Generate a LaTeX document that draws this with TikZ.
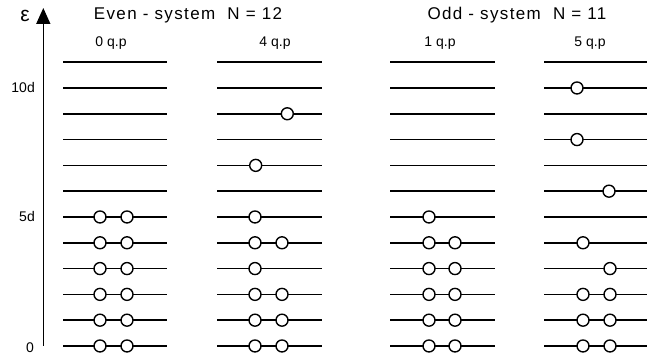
\documentclass[tikz,border=0pt]{standalone}
\usepackage{fontspec}
\setmainfont{Liberation Sans}
\usetikzlibrary{arrows.meta}
\pgfdeclarelayer{bg}
\pgfsetlayers{bg,main}
\tikzset{
    qp/.style={circle, draw, fill=white, inner sep=0mm, minimum size=12pt, line width=1.4pt},
    level/.style={line width=1.6pt},
    txt/.style={inner sep=0pt}
}

\begin{document}
\begin{tikzpicture}[x=1pt, y=25.8pt]
  \useasboundingbox (0,-0.62) rectangle (647,13.41);

  % axis and labels
  \coordinate (ax0) at (43.3,0);
  \coordinate (ax1) at (43.3,13.1);
  \node[txt] (eps) at (25,12.8) {\fontsize{21}{22}\selectfont ε};
  \node[txt, anchor=east] (d10) at (35,10) {\fontsize{14}{16}\selectfont 10d};
  \node[txt, anchor=east] (d5) at (35,5) {\fontsize{14}{16}\selectfont 5d};
  \node[txt, anchor=east] (d0) at (34,-0.05) {\fontsize{14}{16}\selectfont 0};

  \node[txt] (even) at (188,12.83) {\fontsize{17}{20}\selectfont\addfontfeature{LetterSpace=8}Even - system \ N = 12};
  \node[txt] (odd) at (517,12.83) {\fontsize{17}{20}\selectfont\addfontfeature{LetterSpace=8}Odd - system \ N = 11};

  \node[txt] (qa) at (111,11.75) {\fontsize{14}{16}\selectfont 0 q.p};
  \node[txt] (qb) at (275,11.75) {\fontsize{14}{16}\selectfont 4 q.p};
  \node[txt] (qc) at (440,11.75) {\fontsize{14}{16}\selectfont 1 q.p};
  \node[txt] (qd) at (590,11.75) {\fontsize{14}{16}\selectfont 5 q.p};

  % 0 q.p
  \node[qp] (a0l) at (100,0) {}; \node[qp] (a0r) at (127,0) {};
  \node[qp] (a1l) at (100,1) {}; \node[qp] (a1r) at (127,1) {};
  \node[qp] (a2l) at (100,2) {}; \node[qp] (a2r) at (127,2) {};
  \node[qp] (a3l) at (100,3) {}; \node[qp] (a3r) at (127,3) {};
  \node[qp] (a4l) at (100,4) {}; \node[qp] (a4r) at (127,4) {};
  \node[qp] (a5l) at (100,5) {}; \node[qp] (a5r) at (127,5) {};

  % 4 q.p
  \node[qp] (b0l) at (255,0) {}; \node[qp] (b0r) at (282,0) {};
  \node[qp] (b1l) at (255,1) {}; \node[qp] (b1r) at (282,1) {};
  \node[qp] (b2l) at (255,2) {}; \node[qp] (b2r) at (282,2) {};
  \node[qp] (b3l) at (255,3) {};
  \node[qp] (b4l) at (255,4) {}; \node[qp] (b4r) at (282,4) {};
  \node[qp] (b5l) at (255,5) {};
  \node[qp] (b7l) at (255.7,7) {};
  \node[qp] (b9r) at (287.3,9) {};

  % 1 q.p
  \node[qp] (c0l) at (429,0) {}; \node[qp] (c0r) at (455,0) {};
  \node[qp] (c1l) at (429,1) {}; \node[qp] (c1r) at (455,1) {};
  \node[qp] (c2l) at (429,2) {}; \node[qp] (c2r) at (455,2) {};
  \node[qp] (c3l) at (429,3) {}; \node[qp] (c3r) at (455,3) {};
  \node[qp] (c4l) at (429,4) {}; \node[qp] (c4r) at (455,4) {};
  \node[qp] (c5l) at (429,5) {};

  % 5 q.p
  \node[qp] (d0l) at (583,0) {}; \node[qp] (d0r) at (610,0) {};
  \node[qp] (d1l) at (583,1) {}; \node[qp] (d1r) at (610,1) {};
  \node[qp] (d2l) at (583,2) {}; \node[qp] (d2r) at (610,2) {};
  \node[qp] (d3r) at (610,3) {};
  \node[qp] (d4l) at (583,4) {};
  \node[qp] (d6r) at (609,6) {};
  \node[qp] (d8l) at (577,8) {};
  \node[qp] (d10l) at (577,10) {};

  \begin{pgfonlayer}{bg}
    \draw[line width=1.6pt, -{Triangle[width=14pt, length=16pt]}] (ax0) -- (ax1);
    \foreach \l in {0,...,11} {
      \draw[level] (63,\l) -- (167,\l);
      \draw[level] (217,\l) -- (322,\l);
      \draw[level] (390,\l) -- (495,\l);
      \draw[level] (544,\l) -- (647,\l);
    }
  \end{pgfonlayer}

\end{tikzpicture}
\end{document}
